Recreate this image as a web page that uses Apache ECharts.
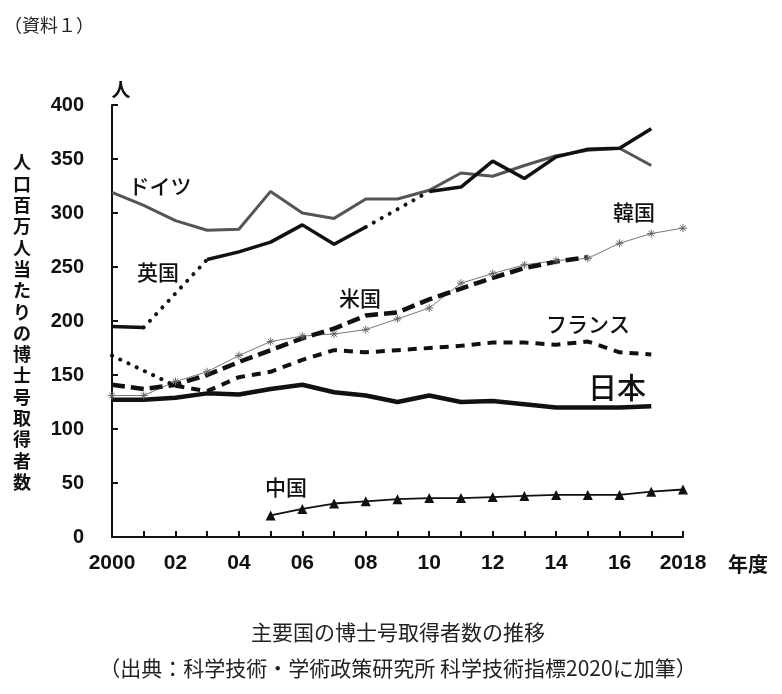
<!DOCTYPE html>
<html>
<head>
<meta charset="utf-8">
<script src="https://cdn.jsdelivr.net/npm/echarts@6/dist/echarts.min.js"></script>
<style>
  html, body { margin: 0; padding: 0; background: #fff; }
  #chart { width: 782px; height: 694px; }
</style>
</head>
<body>
<div id="chart"></div>
<script>
// years on the x axis (fiscal years)
const years = [2000, 2001, 2002, 2003, 2004, 2005, 2006, 2007, 2008, 2009,
  2010, 2011, 2012, 2013, 2014, 2015, 2016, 2017, 2018];

// doctorates per million people (null = no data)
const germany = [319, 307, 293, 284, 285, 320, 300, 295, 313, 313,
  321, 337, 334, 344, 353, 358, 360, 344, null];
const uk = [195, 194, null, 257, 264, 273, 289, 271, 287, null,
  320, 324, 348, 332, 352, 359, 360, 378, null];
const usa = [141, 137, 141, 150, 162, 173, 184, 193, 205, 208,
  220, 230, 240, 249, 255, 259, null, null, null];
const korea = [131, 131, 144, 153, 168, 181, 186, 188, 192, 202,
  212, 235, 244, 252, 256, 258, 272, 281, 286];
const france = [null, null, 140, 135, 148, 153, 164, 173, 171, 173,
  175, 177, 180, 180, 178, 181, 171, 169, null];
const japan = [127, 127, 129, 133, 132, 137, 141, 134, 131, 125,
  131, 125, 126, 123, 120, 120, 120, 121, null];
const china = [null, null, null, null, null, 20, 26, 31, 33, 35,
  36, 36, 37, 38, 39, 39, 39, 42, 44];

// dotted bridges across years with missing values
const ukGapYearsA = [2001, 2003];
const ukGapValuesA = [194, 257];
const ukGapYearsB = [2008, 2010];
const ukGapValuesB = [287, 320];
const frGapYears = [2000, 2002];
const frGapValues = [168, 140];

const yTicks = [0, 50, 100, 150, 200, 250, 300, 350, 400];

const JP = '"Noto Sans CJK JP", sans-serif';
const NUM = '"Liberation Sans", Arial, sans-serif';

const pts = (vals) => years.map((y, i) => [y, vals[i] == null ? '-' : vals[i]]);
const pairs = (xs, vs) => xs.map((x, i) => [x, vs[i]]);

const chart = echarts.init(document.getElementById('chart'));

const dotted = { color: '#111', width: 4, type: [0.1, 9], cap: 'round' };

chart.setOption({
  animation: false,
  backgroundColor: '#fff',
  grid: { left: 112, right: 99, top: 105, bottom: 157 },
  xAxis: {
    type: 'value',
    min: 2000,
    max: 2018,
    interval: 1,
    splitLine: { show: false },
    axisLine: { lineStyle: { color: '#111', width: 2 } },
    axisTick: { inside: true, length: 6, lineStyle: { color: '#111', width: 2 } },
    axisLabel: {
      margin: 16,
      color: '#111',
      fontFamily: NUM,
      fontWeight: 'bold',
      fontSize: 21,
      formatter: (v) => {
        if (v % 2 !== 0) return '';
        if (v === 2000 || v === 2018) return String(v);
        return String(v).slice(2);
      },
    },
  },
  yAxis: {
    type: 'value',
    min: 0,
    max: 400,
    interval: 50,
    splitLine: { show: false },
    axisLine: { show: true, lineStyle: { color: '#111', width: 2 } },
    axisTick: { show: true, inside: true, length: 6, lineStyle: { color: '#111', width: 2 } },
    axisLabel: {
      margin: 28,
      color: '#111',
      fontFamily: NUM,
      fontWeight: 'bold',
      fontSize: 20,
      formatter: (v) => (yTicks.includes(v) ? String(v) : ''),
    },
  },
  series: [
    // ドイツ
    {
      type: 'line', data: pts(germany), symbol: 'none',
      lineStyle: { color: '#555', width: 3 },
    },
    // 英国
    {
      type: 'line', data: pts(uk), symbol: 'none',
      lineStyle: { color: '#111', width: 3.5 },
    },
    { type: 'line', data: pairs(ukGapYearsA, ukGapValuesA), symbol: 'none', lineStyle: dotted },
    { type: 'line', data: pairs(ukGapYearsB, ukGapValuesB), symbol: 'none', lineStyle: dotted },
    // 韓国
    {
      type: 'line', data: pts(korea),
      symbol: 'path://M0 5H10M5 0V10M1.5 1.5L8.5 8.5M8.5 1.5L1.5 8.5',
      symbolSize: 8,
      itemStyle: { color: '#777', borderColor: '#666', borderWidth: 1 },
      lineStyle: { color: '#777', width: 1 },
    },
    // 米国
    {
      type: 'line', data: pts(usa), symbol: 'none',
      lineStyle: { color: '#111', width: 4.5, type: [13, 6] },
    },
    // フランス
    {
      type: 'line', data: pts(france), symbol: 'none',
      lineStyle: { color: '#111', width: 4, type: [9, 7] },
    },
    { type: 'line', data: pairs(frGapYears, frGapValues), symbol: 'none', lineStyle: dotted },
    // 日本
    {
      type: 'line', data: pts(japan), symbol: 'none',
      lineStyle: { color: '#111', width: 4.5 },
    },
    // 中国
    {
      type: 'line', data: pts(china),
      symbol: 'triangle', symbolSize: 10,
      itemStyle: { color: '#111' },
      lineStyle: { color: '#111', width: 1.8 },
    },
  ],
  graphic: [
    { type: 'text', x: 4, y: 25, style: { text: '（資料１）', font: '18px ' + JP, fill: '#222', verticalAlign: 'middle' } },
    { type: 'text', x: 121, y: 90, style: { text: '人', font: 'bold 19px ' + JP, fill: '#111', align: 'center', verticalAlign: 'middle' } },
    {
      type: 'text', x: 22, y: 152,
      style: {
        text: '人口百万人当たりの博士号取得者数'.split('').join('\n'),
        font: 'bold 18px ' + JP, lineHeight: 21.3, fill: '#111', align: 'center',
      },
    },
    { type: 'text', x: 748, y: 564, style: { text: '年度', font: 'bold 20px ' + JP, fill: '#111', align: 'center', verticalAlign: 'middle' } },
    { type: 'text', x: 160, y: 186, style: { text: 'ドイツ', font: '500 21px ' + JP, fill: '#111', align: 'center', verticalAlign: 'middle' } },
    { type: 'text', x: 158, y: 272, style: { text: '英国', font: '500 21px ' + JP, fill: '#111', align: 'center', verticalAlign: 'middle' } },
    { type: 'text', x: 360, y: 298, style: { text: '米国', font: '500 21px ' + JP, fill: '#111', align: 'center', verticalAlign: 'middle' } },
    { type: 'text', x: 634, y: 212, style: { text: '韓国', font: '500 21px ' + JP, fill: '#111', align: 'center', verticalAlign: 'middle' } },
    { type: 'text', x: 588, y: 324, style: { text: 'フランス', font: '500 21px ' + JP, fill: '#111', align: 'center', verticalAlign: 'middle' } },
    { type: 'text', x: 617, y: 388, style: { text: '日本', font: '500 29px ' + JP, fill: '#111', align: 'center', verticalAlign: 'middle' } },
    { type: 'text', x: 286, y: 487, style: { text: '中国', font: '500 21px ' + JP, fill: '#111', align: 'center', verticalAlign: 'middle' } },
    { type: 'text', x: 398, y: 632, style: { text: '主要国の博士号取得者数の推移', font: '21px ' + JP, fill: '#222', align: 'center', verticalAlign: 'middle' } },
    { type: 'text', x: 398, y: 668, style: { text: '（出典：科学技術・学術政策研究所 科学技術指標2020に加筆）', font: '21px ' + JP, fill: '#222', align: 'center', verticalAlign: 'middle' } },
  ],
});
</script>
</body>
</html>
